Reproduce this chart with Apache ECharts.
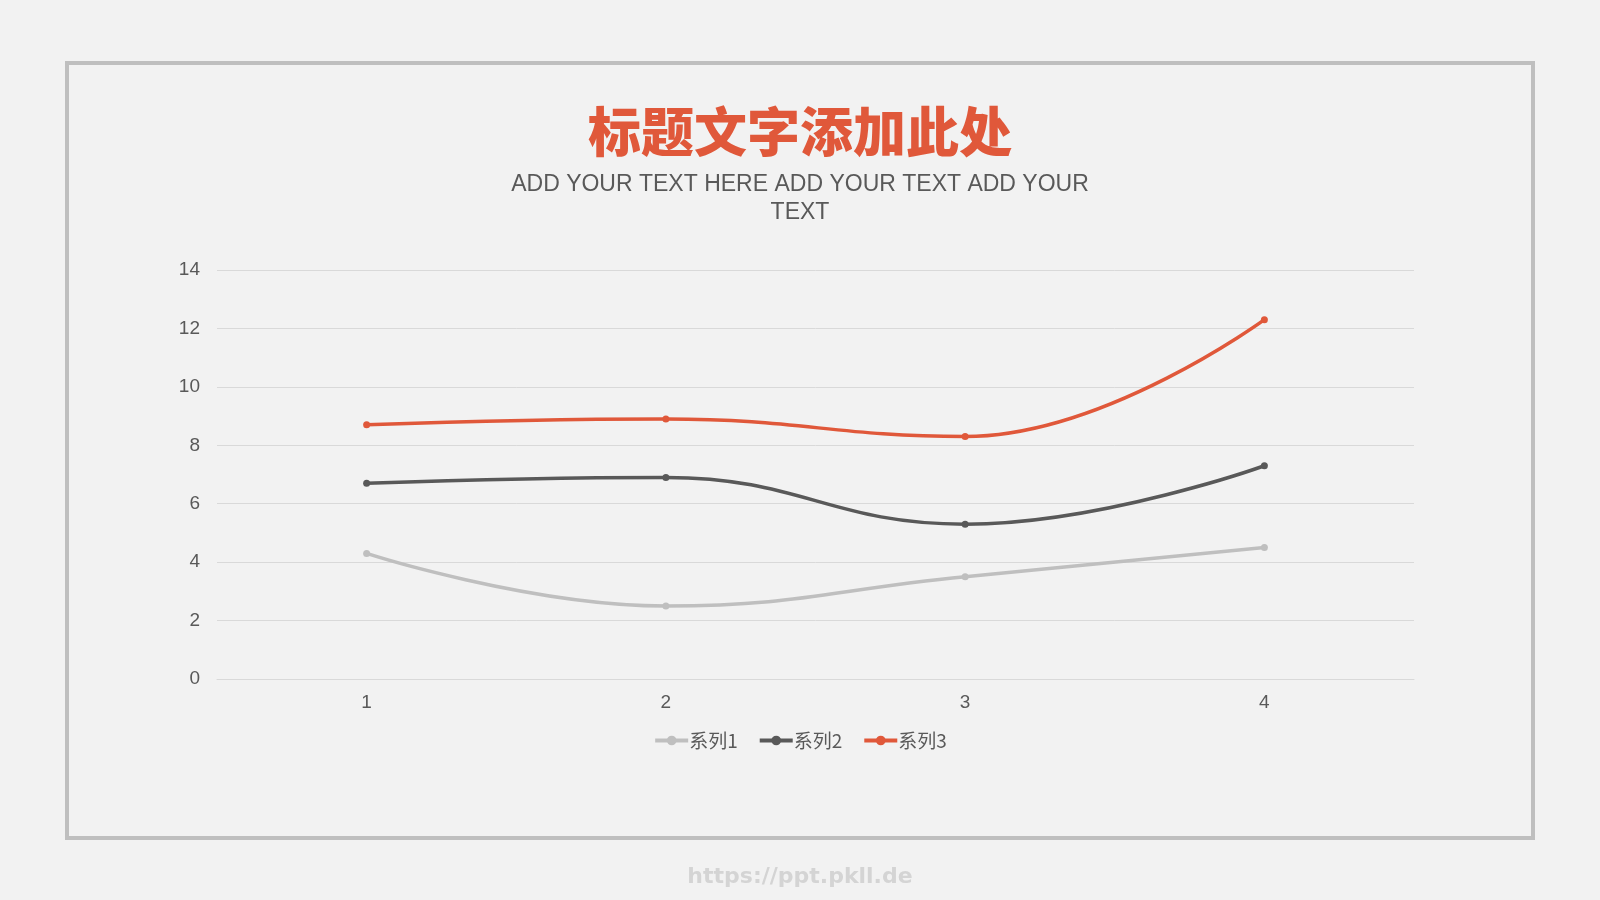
<!DOCTYPE html>
<html>
<head>
<meta charset="utf-8">
<script src="https://cdn.jsdelivr.net/npm/echarts@6/dist/echarts.min.js"></script>
<style>
html,body{margin:0;padding:0;background:#f2f2f2;}
#chart{width:1600px;height:900px;}
</style>
</head>
<body>
<div id="chart"></div>
<script>
'use strict';

// 数据
var categories=['1','2','3','4'];
var seriesNames=['系列1','系列2','系列3'];
var series1=[4.3,2.5,3.5,4.5];
var series2=[6.7,6.9,5.3,7.3];
var series3=[8.7,8.9,8.3,12.3];
var colors=['#bfbfbf','#595959','#e0583a'];

var TEXT_COLOR='#595959';
var FONT='"Liberation Sans","Noto Sans CJK SC",sans-serif';

function makeLine(name,data,color){
    return {
        name:name,
        type:'line',
        smooth:0.45,
        data:data,
        symbol:'circle',
        symbolSize:7,
        lineStyle:{width:3.5,color:color},
        itemStyle:{color:color},
        emphasis:{disabled:true}
    };
}

var chart=echarts.init(document.getElementById('chart'));
chart.setOption({
    backgroundColor:'#f2f2f2',
    animation:false,
    color:colors,
    title:{
        text:'标题文字添加此处',
        left:'center',
        top:100,
        textStyle:{color:'#e0583a',fontSize:53,fontWeight:900,fontFamily:'"Noto Sans CJK SC",sans-serif'}
    },
    grid:{left:217,right:186,top:270,bottom:221},
    xAxis:{
        type:'category',
        data:categories,
        boundaryGap:true,
        axisLine:{lineStyle:{color:'#d9d9d9'}},
        axisTick:{show:false},
        axisLabel:{color:TEXT_COLOR,fontSize:19,fontFamily:FONT,margin:14}
    },
    yAxis:{
        type:'value',
        min:0,max:14,interval:2,
        axisLine:{show:false},
        axisTick:{show:false},
        axisLabel:{color:TEXT_COLOR,fontSize:19,fontFamily:FONT,margin:17},
        splitLine:{lineStyle:{color:'#d9d9d9',width:1}}
    },
    legend:{
        data:seriesNames,
        left:'center',
        top:726,
        itemWidth:33,
        itemHeight:12,
        itemGap:20,
        lineStyle:{width:4},
        textStyle:{color:TEXT_COLOR,fontSize:19,fontFamily:'"Noto Sans CJK SC",sans-serif',padding:[0,0,0,-4]}
    },
    graphic:[{
        type:'rect',
        shape:{x:67,y:63,width:1466,height:775},
        style:{fill:'none',stroke:'#bfbfbf',lineWidth:4},
        silent:true
    },{
        type:'text',
        x:800,y:171,
        style:{text:'ADD YOUR TEXT HERE ADD YOUR TEXT ADD YOUR\nTEXT',fill:TEXT_COLOR,font:'23px "Liberation Sans",sans-serif',lineHeight:28,align:'center',verticalAlign:'top'},
        silent:true
    },{
        type:'text',
        x:800,y:877,
        style:{text:'https://ppt.pkll.de',fill:'#d4d4d4',font:'bold 22px "DejaVu Sans",sans-serif',align:'center',verticalAlign:'middle'},
        silent:true
    }],
    series:[
        makeLine(seriesNames[0],series1,colors[0]),
        makeLine(seriesNames[1],series2,colors[1]),
        makeLine(seriesNames[2],series3,colors[2])
    ]
});
</script>
</body>
</html>
